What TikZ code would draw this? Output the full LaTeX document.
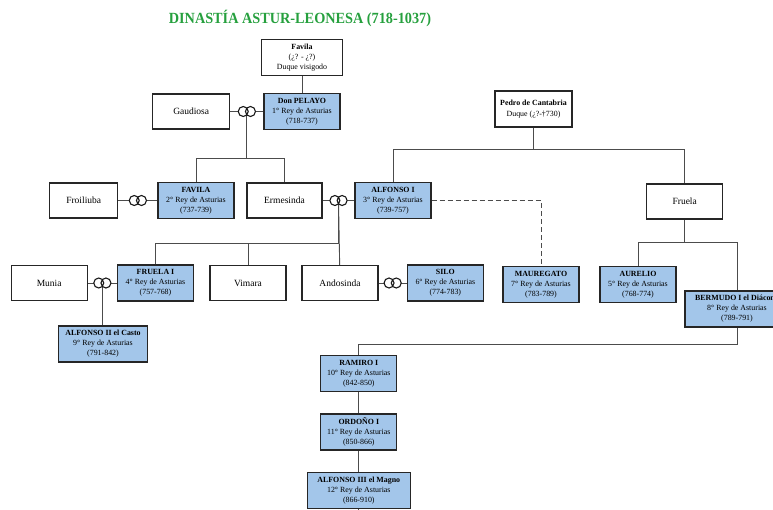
\documentclass[tikz,border=0pt]{standalone}
\usepackage{fontspec}
\setmainfont{Liberation Serif}
\usetikzlibrary{positioning}
\definecolor{reyazul}{RGB}{163,198,234}
\definecolor{verdetit}{RGB}{38,160,62}
% dos anillos sobre un enlace
\newcommand{\anillos}[1]{\filldraw[draw=black!90, line width=1.1pt, fill=white] (#1) ++(-3.6,0) circle (5) (#1) ++(3.6,0) circle (5);}

\begin{document}
\begin{tikzpicture}[x=1pt, y=-1pt,
    rey/.style={draw=black!85, line width=1.3pt, fill=reyazul, minimum width=76pt, minimum height=36pt, inner sep=1pt, align=center, font=\fontsize{7.9}{10}\selectfont},
    per/.style={draw=black!85, line width=1.3pt, fill=white, minimum width=76pt, minimum height=35pt, inner sep=1pt, align=center, font=\fontsize{9.5}{10}\selectfont},
    lin/.style={draw=black!70, line width=0.9pt}]
    \useasboundingbox (0,0) rectangle (773,509);
    \node [text=verdetit, font=\bfseries\fontsize{15.5}{15.5}\selectfont] (T) at (300,18) {\scalebox{0.92}[1]{DINASTÍA ASTUR-LEONESA (718-1037)}};
    % generacion de Pelayo
    \node [rey] (Pe) at (302,111.5) {\textbf{Don PELAYO}\\1° Rey de Asturias\\(718-737)};
    \node [per, minimum width=81pt, minimum height=36pt, font=\fontsize{7.9}{10}\selectfont, above = 17pt of Pe] (Fa) {\textbf{Favila}\\(¿? - ¿?)\\Duque visigodo};
    \node [per, minimum width=77pt, left = 33pt of Pe] (Ga) {Gaudiosa};
    \node [per, minimum width=77pt, minimum height=36pt, font=\fontsize{7.9}{11}\selectfont] (Pc) at (533.5,109) {\textbf{Pedro de Cantabria}\\Duque (¿?-†730)};
    % hijos
    \node [rey] (Fv) at (196,200.5) {\textbf{FAVILA}\\2° Rey de Asturias\\(737-739)};
    \node [per, minimum width=68pt, left = 39pt of Fv] (Fr) {Froiliuba};
    \node [per, minimum width=75pt] (Er) at (284.5,200.5) {Ermesinda};
    \node [rey] (A1) at (393,200.5) {\textbf{ALFONSO I}\\3° Rey de Asturias\\(739-757)};
    \node [per] (Fu) at (684.7,201.6) {Fruela};
    % nietos
    \node [rey] (F1) at (155.5,283) {\textbf{FRUELA I}\\4° Rey de Asturias\\(757-768)};
    \node [per, left = 29pt of F1] (Mu) {Munia};
    \node [per] (Vi) at (248,283) {Vimara};
    \node [per] (An) at (340,283) {Andosinda};
    \node [rey, right = 28pt of An] (Si) {\textbf{SILO}\\6° Rey de Asturias\\(774-783)};
    \node [rey] (Ma) at (541,284.3) {\textbf{MAUREGATO}\\7° Rey de Asturias\\(783-789)};
    \node [rey] (Au) at (638,284.3) {\textbf{AURELIO}\\5° Rey de Asturias\\(768-774)};
    \node [rey, minimum width=104pt] (Be) at (737,309) {\textbf{BERMUDO I el Diácono}\\8° Rey de Asturias\\(789-791)};
    \node [rey, minimum width=89pt] (A2) at (103,344) {\textbf{ALFONSO II el Casto}\\9° Rey de Asturias\\(791-842)};
    % linea de Ramiro
    \node [rey] (Ra) at (358.8,373.7) {\textbf{RAMIRO I}\\10° Rey de Asturias\\(842-850)};
    \node [rey, below = 21pt of Ra] (Or) {\textbf{ORDOÑO I}\\11° Rey de Asturias\\(850-866)};
    \node [rey, minimum width=103pt, below = 21pt of Or] (A3) {\textbf{ALFONSO III el Magno}\\12° Rey de Asturias\\(866-910)};
    \coordinate [below = 8pt of A3.south] (sig);

    % enlaces
    \draw [lin] (Fa) -- (Pe);
    \draw [lin] (Ga) -- coordinate (m1) (Pe);
    \draw [lin] (Fr) -- coordinate (m2) (Fv);
    \draw [lin] (Er) -- coordinate (m3) (A1);
    \draw [lin] (Mu) -- coordinate (m4) (F1);
    \draw [lin] (An) -- coordinate (m5) (Si);
    % descendencia
    \draw [lin] (m1) -- ++(0,47) -| (Fv);
    \draw [lin] (m1) ++(0,47) -| (Er);
    \draw [lin] (Pc.south) -- ++(0,22) -| (A1);
    \draw [lin] (Pc.south) ++(0,22) -| (Fu);
    \draw [lin] (m3) -- ++(0,43.3) -| (F1);
    \draw [lin] (m3) ++(0,43.3) -| (Vi);
    \draw [lin] (m3) -- (An);
    \draw [lin, dash pattern=on 5pt off 3pt] (A1) -| (Ma);
    \draw [lin] (Fu.south) -- ++(0,23) -| (Au);
    \draw [lin] (Fu.south) ++(0,23) -| (Be);
    \draw [lin] (m4) -- (m4 |- A2.north);
    \draw [lin] (Be.south) -- ++(0,16.5) -| (Ra);
    \draw [lin] (Ra) -- (Or);
    \draw [lin] (Or) -- (A3);
    \draw [lin] (A3) -- (sig);
    % anillos
    \anillos{m1}
    \anillos{m2}
    \anillos{m3}
    \anillos{m4}
    \anillos{m5}
\end{tikzpicture}
\end{document}
